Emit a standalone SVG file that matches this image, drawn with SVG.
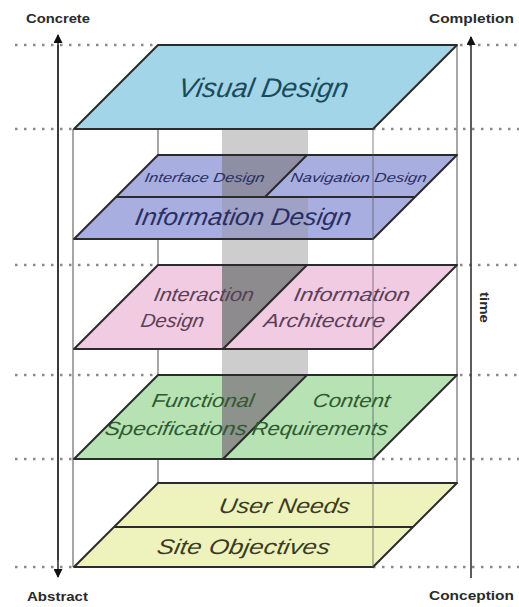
<svg xmlns="http://www.w3.org/2000/svg" width="519" height="607" viewBox="0 0 519 607">
<style>
.dot{stroke:#8a8a8a;stroke-width:2.5;stroke-dasharray:2.5 6.5;fill:none}
.edge{stroke:#777;stroke-width:1.3;fill:none}
.ax{stroke:#333;stroke-width:1.6;fill:none}
.plane{stroke:#2b2b2b;stroke-width:2;stroke-linejoin:round}
.ln{stroke:#2b2b2b;stroke-width:2;fill:none}
.lbl{font-family:"Liberation Sans",Arial,sans-serif;font-weight:bold;font-size:13px;fill:#2a2a2a}
.pt{font-family:"Liberation Sans",Arial,sans-serif;font-style:italic;text-anchor:start}
</style>
<defs>
<marker id="ah" viewBox="0 0 10 10" refX="9" refY="5" markerWidth="10" markerHeight="9" orient="auto" markerUnits="userSpaceOnUse">
<path d="M0,0 L10,5 L0,10 z" fill="#111"/>
</marker>
</defs>

<g id="connectors">
<!-- dotted level lines -->
<path class="dot" d="M15,45 H158 M460,45 H519 M15,129 H74 M373,129 H519 M15,265 H158 M460,265 H519 M15,375 H158 M460,375 H519 M15,459 H74 M373,459 H519 M15,567 H74 M373,567 H519"/>
<!-- back/front vertical edges -->
<path class="edge" d="M73,129 V567 M457,45 V483 M158,129 V155 M158,239 V265 M158,349 V375 M158,459 V483"/>
<!-- axes -->
<line class="ax" x1="58" y1="45" x2="58" y2="577" marker-end="url(#ah)"/>
<line class="ax" x1="58" y1="560" x2="58" y2="35" marker-end="url(#ah)"/>
<line class="ax" x1="471" y1="578" x2="471" y2="37" marker-end="url(#ah)"/>
</g>

<g id="divider-band">
<rect x="222" y="129" width="86" height="246" fill="#cdcdcd"/>
</g>

<g id="visual-design">
<polygon class="plane" points="158,45 457,45 373,129 74,129" fill="#a2d5e8"/>
<text class="pt" transform="translate(177,97) skewX(-10)" font-size="27" fill="#1b4b5b" textLength="170" lengthAdjust="spacingAndGlyphs">Visual Design</text>
</g>

<g id="interface-design">
<polygon points="158,155 307,155 265,197 116,197" fill="#a9aee0"/>
<polygon points="222,155 307,155 265,197 222,197" fill="#8e8fa4"/>
<text class="pt" transform="translate(144,182) skewX(-10)" font-size="13" fill="#2a2e62" textLength="120" lengthAdjust="spacingAndGlyphs">Interface Design</text>
</g>

<g id="navigation-design">
<polygon points="307,155 457,155 415,197 265,197" fill="#a9aee0"/>
<text class="pt" transform="translate(290,182) skewX(-10)" font-size="13" fill="#2a2e62" textLength="136" lengthAdjust="spacingAndGlyphs">Navigation Design</text>
</g>

<g id="information-design">
<polygon points="116,197 415,197 373,239 74,239" fill="#a9aee0"/>
<rect x="222" y="197" width="86" height="42" fill="#888" fill-opacity="0.3"/>
<polygon class="plane" points="158,155 457,155 373,239 74,239" fill="none"/>
<path class="ln" d="M116,197 H415 M307,155 L265,197"/>
<text class="pt" transform="translate(134,225) skewX(-10)" font-size="24" fill="#2a2e62" textLength="216" lengthAdjust="spacingAndGlyphs">Information Design</text>
</g>

<g id="interaction-design">
<polygon points="158,265 307,265 223,349 74,349" fill="#f1cbe2"/>
<polygon points="222,265 307,265 223,349 222,349" fill="#8d8b8d"/>
<text class="pt" transform="translate(153,301) skewX(-10)" font-size="19" fill="#5b3f58" textLength="100" lengthAdjust="spacingAndGlyphs">Interaction</text>
<text class="pt" transform="translate(140,327) skewX(-10)" font-size="19" fill="#5b3f58" textLength="63" lengthAdjust="spacingAndGlyphs">Design</text>
</g>

<g id="information-architecture">
<polygon points="307,265 457,265 373,349 223,349" fill="#f1cbe2"/>
<polygon class="plane" points="158,265 457,265 373,349 74,349" fill="none"/>
<path class="ln" d="M307,265 L223,349"/>
<text class="pt" transform="translate(293,301) skewX(-10)" font-size="19" fill="#5b3f58" textLength="116" lengthAdjust="spacingAndGlyphs">Information</text>
<text class="pt" transform="translate(263,327) skewX(-10)" font-size="19" fill="#5b3f58" textLength="121" lengthAdjust="spacingAndGlyphs">Architecture</text>
</g>

<g id="functional-specifications">
<polygon points="158,375 307,375 223,459 74,459" fill="#b6e2b4"/>
<polygon points="222,375 307,375 223,459 222,459" fill="#8e928d"/>
<text class="pt" transform="translate(151,407) skewX(-10)" font-size="19" fill="#2f5a2f" textLength="102" lengthAdjust="spacingAndGlyphs">Functional</text>
<text class="pt" transform="translate(104,435) skewX(-10)" font-size="19" fill="#2f5a2f" textLength="142" lengthAdjust="spacingAndGlyphs">Specifications</text>
</g>

<g id="content-requirements">
<polygon points="307,375 457,375 373,459 223,459" fill="#b6e2b4"/>
<polygon class="plane" points="158,375 457,375 373,459 74,459" fill="none"/>
<path class="ln" d="M307,375 L223,459"/>
<text class="pt" transform="translate(312,407) skewX(-10)" font-size="19" fill="#2f5a2f" textLength="77" lengthAdjust="spacingAndGlyphs">Content</text>
<text class="pt" transform="translate(251,435) skewX(-10)" font-size="19" fill="#2f5a2f" textLength="136" lengthAdjust="spacingAndGlyphs">Requirements</text>
</g>

<g id="user-needs">
<polygon points="158,483 457,483 413,527 114,527" fill="#eef2bd"/>
<text class="pt" transform="translate(218,513) skewX(-10)" font-size="21" fill="#3b3b22" textLength="131" lengthAdjust="spacingAndGlyphs">User Needs</text>
</g>

<g id="site-objectives">
<polygon points="114,527 413,527 373,567 74,567" fill="#eef2bd"/>
<polygon class="plane" points="158,483 457,483 373,567 74,567" fill="none"/>
<path class="ln" d="M114,527 H413"/>
<text class="pt" transform="translate(156,554) skewX(-10)" font-size="21" fill="#3b3b22" textLength="173" lengthAdjust="spacingAndGlyphs">Site Objectives</text>
</g>

<g id="front-edge">
<path d="M373,129 V567" stroke="#555" stroke-width="1.2" stroke-opacity="0.6" fill="none"/>
</g>

<g id="axis-labels">
<text class="lbl" x="26" y="23" textLength="64" lengthAdjust="spacingAndGlyphs">Concrete</text>
<text class="lbl" x="429" y="23" textLength="85" lengthAdjust="spacingAndGlyphs">Completion</text>
<text class="lbl" x="27" y="601" textLength="61" lengthAdjust="spacingAndGlyphs">Abstract</text>
<text class="lbl" x="429" y="600" textLength="85" lengthAdjust="spacingAndGlyphs">Conception</text>
<text class="lbl" transform="translate(480,292) rotate(90)" font-size="12" textLength="31" lengthAdjust="spacingAndGlyphs">time</text>
</g>
</svg>
